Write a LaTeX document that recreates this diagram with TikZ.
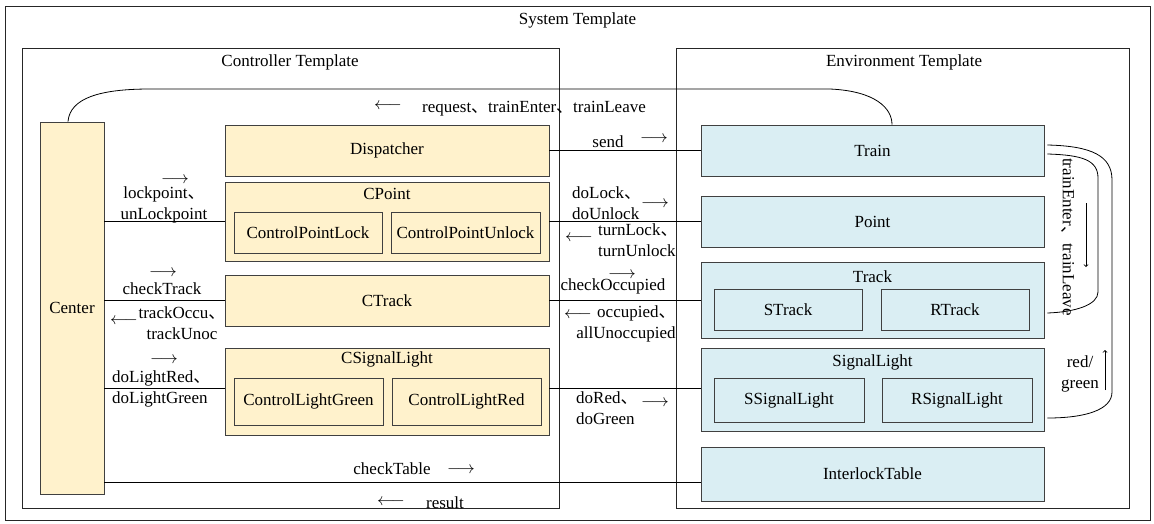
\documentclass[tikz,border=0pt]{standalone}
\usepackage{fontspec}
\setmainfont{Liberation Serif}
\newfontfamily\cjk{Noto Sans CJK SC}
\newcommand{\dun}{{\cjk 、}}
\newcommand{\rarr}{$\longrightarrow$}
\newcommand{\larr}{$\longleftarrow$}
\definecolor{ctrlfill}{RGB}{255,242,204}
\definecolor{envfill}{RGB}{218,238,243}
\definecolor{boxline}{RGB}{64,64,64}
\begin{document}
\begin{tikzpicture}[x=1pt,y=-1pt,every node/.style={font=\fontsize{17}{21}\selectfont}]
\tikzset{cbox/.style={draw=boxline, fill=ctrlfill, line width=0.9pt, inner sep=0pt},
  ebox/.style={draw=boxline, fill=envfill, line width=0.9pt, inner sep=0pt},
  frame/.style={draw=black!85, line width=0.8pt, inner sep=0pt},
  wire/.style={line width=0.8pt},
  lbl/.style={inner sep=0pt},
  twoline/.style={align=center, inner sep=0pt},
  leftlines/.style={align=left, inner sep=0pt, anchor=west}}
\useasboundingbox (0,0) rectangle (1154,523);
% containers
\node[frame, minimum width=1145pt, minimum height=514pt] (sys) at (577.5,263) {};
\node[lbl] (sysT) at ([yshift=-15pt]sys.north) {System Template};
\node[frame, minimum width=537pt, minimum height=460pt] (ctrl) at (290.5,278) {};
\node[lbl] (ctrlT) at (290,62) {Controller Template};
\node[frame, minimum width=453pt, minimum height=460pt] (env) at (902.5,278) {};
\node[lbl] (envT) at (904,62) {Environment Template};
% controller side
\node[cbox, minimum width=64pt, minimum height=372pt] (center) at (72,308) {Center};
\node[cbox, minimum width=324pt, minimum height=51pt] (disp) at (387,150.5) {Dispatcher};
\node[cbox, minimum width=324pt, minimum height=79pt] (cpoint) at (387,221.5) {};
\node[lbl] (cpointT) at ([yshift=-12pt]cpoint.north) {CPoint};
\node[cbox, minimum width=148pt, minimum height=41pt] (cplock) at (308,232.5) {ControlPointLock};
\node[cbox, minimum width=149pt, minimum height=41pt] (cpunlock) at (465.5,232.5) {ControlPointUnlock};
\node[cbox, minimum width=324pt, minimum height=51pt] (ctrack) at (387,300.5) {CTrack};
\node[cbox, minimum width=324pt, minimum height=87pt] (csig) at (387,391.5) {};
\node[lbl] (csigT) at ([yshift=-12pt]csig.north) {CSignalLight};
\node[cbox, minimum width=149pt, minimum height=47pt] (clgreen) at (308.5,401.5) {ControlLightGreen};
\node[cbox, minimum width=149pt, minimum height=47pt] (clred) at (466.5,401.5) {ControlLightRed};
% environment side
\node[ebox, minimum width=343pt, minimum height=51pt] (train) at (872.5,150.5) {Train};
\node[ebox, minimum width=343pt, minimum height=51pt] (point) at (872.5,221.5) {Point};
\node[ebox, minimum width=343pt, minimum height=76pt] (track) at (872.5,300) {};
\node[lbl] (trackT) at ([yshift=-15pt]track.north) {Track};
\node[ebox, minimum width=148pt, minimum height=41pt] (strack) at (788,309.5) {STrack};
\node[ebox, minimum width=148pt, minimum height=41pt] (rtrack) at (955,309.5) {RTrack};
\node[ebox, minimum width=343pt, minimum height=83pt] (sig) at (872.5,389.5) {};
\node[lbl] (sigT) at ([yshift=-15pt]sig.north) {SignalLight};
\node[ebox, minimum width=150pt, minimum height=44pt] (ssig) at (789,400) {SSignalLight};
\node[ebox, minimum width=150pt, minimum height=44pt] (rsig) at (957,400) {RSignalLight};
\node[ebox, minimum width=343pt, minimum height=54pt] (itab) at (872.5,474) {InterlockTable};
% connectors
\draw[wire] ([xshift=-4pt]center.north) .. controls (70,98) and (100,89) .. (150,89) -- (830,89)
  .. controls (875,91) and (892,108) .. ([xshift=19.5pt]train.north);
\draw[wire] (disp.east) -- (train.west);
\draw[wire] (center.east |- cpoint.west) -- (cpoint.west);
\draw[wire] (center.east |- ctrack.west) -- (ctrack.west);
\draw[wire] ([yshift=3.5pt]csig.west -| center.east) -- ([yshift=3.5pt]csig.west);
\draw[wire] ([yshift=-8pt]itab.west -| center.east) -- ([yshift=-8pt]itab.west);
\draw[wire] (cpoint.east) -- (cpoint.east -| point.west);
\draw[wire] (ctrack.east) -- (ctrack.east -| track.west);
\draw[wire] ([yshift=3.5pt]csig.east) -- ([yshift=3.5pt]csig.east -| sig.west);
\draw[wire] ([xshift=3pt,yshift=-3.5pt]train.east) .. controls (1082,155) and (1098,160) .. (1098,178)
  -- (1098,292) .. controls (1098,305) and (1075,312) .. ([xshift=3pt,yshift=-13pt]track.east);
\draw[wire] ([xshift=3pt,yshift=5.5pt]train.east) .. controls (1092,146) and (1112,156) .. (1112,180)
  -- (1112,392) .. controls (1112,410) and (1085,418) .. ([xshift=3pt,yshift=-28.5pt]sig.east);
% labels
\node[lbl] (reqA) at (388,106) {\larr};
\node[lbl] (req) at (534,109) {request\dun trainEnter\dun trainLeave};
\node[lbl] (send) at (608,142) {send};
\node[lbl] (sendA) at (654,139) {\rarr};
\node[lbl] (lockA) at (175,180) {\rarr};
\node[twoline] (lock) at (164,204.5) {lockpoint\dun\\unLockpoint};
\node[lbl] (ctA) at (163,273) {\rarr};
\node[lbl] (ct) at (162,289) {checkTrack};
\node[lbl] (toA) at (124,321) {\larr};
\node[twoline] (to) at (182,323) {trackOccu\dun\\trackUnoc};
\node[lbl] (dlA) at (164,360) {\rarr};
\node[leftlines] (dl) at (112,388.5) {doLightRed\dun\\doLightGreen};
\node[leftlines] (dlk) at (572,203) {doLock\dun\\doUnlock};
\node[lbl] (dlkA) at (655,204) {\rarr};
\node[lbl] (tlA) at (579,238) {\larr};
\node[leftlines] (tl) at (598,240.5) {turnLock\dun\\turnUnlock};
\node[lbl] (coA) at (622,275) {\rarr};
\node[lbl] (co) at (613,286) {checkOccupied};
\node[lbl] (ocA) at (578,315) {\larr};
\node[lbl, anchor=west] (oc) at (597,313) {occupied\dun};
\node[lbl] (ocB) at (626,334) {allUnoccupied};
\node[leftlines] (dr) at (576,408.5) {doRed\dun\\doGreen};
\node[lbl] (drA) at (655,403) {\rarr};
\node[lbl] (chk) at (392,469) {checkTable};
\node[lbl] (chkA) at (461,470) {\rarr};
\node[lbl] (resA) at (391,502) {\larr};
\node[lbl] (res) at (445,503) {result};
\node[lbl, rotate=-90] (tel) at (1068,237) {trainEnter\dun trainLeave};
\coordinate (dnA) at (1086,203);
\coordinate (dnB) at (1086,267);
\draw[wire, ->, >=to] (dnA) -- (dnB);
\node[twoline] (rg) at (1080,374) {red/\\green};
\coordinate (upA) at (1105,390);
\coordinate (upB) at (1105,350);
\draw[wire, ->, >=to] (upA) -- (upB);
\end{tikzpicture}
\end{document}
